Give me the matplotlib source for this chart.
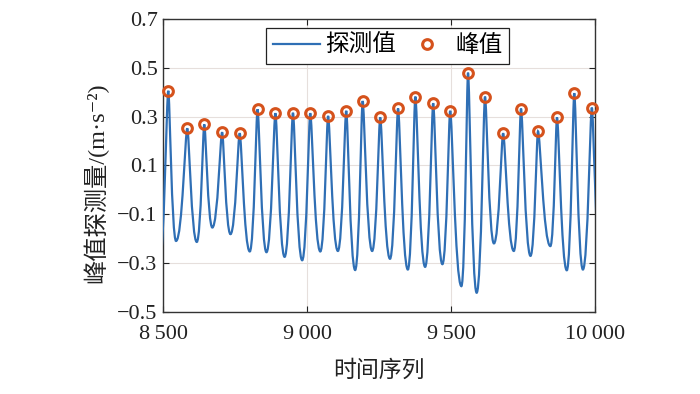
import numpy as np
import matplotlib
matplotlib.use("Agg")
import matplotlib.pyplot as plt
from matplotlib.path import Path
from matplotlib.patches import PathPatch
from matplotlib.lines import Line2D

plt.rcParams['font.family'] = ['Liberation Serif', 'Noto Sans CJK SC', 'DejaVu Sans']
plt.rcParams['axes.unicode_minus'] = True

# ---- data ----
peak_x = [8518, 8584, 8643, 8705, 8766, 8828, 8890, 8951, 9011, 9073, 9136, 9193, 9254,
          9316, 9376, 9438, 9497, 9559, 9618, 9681, 9743, 9802, 9868, 9928, 9989]
peak_y = [0.406, 0.252, 0.268, 0.236, 0.232, 0.330, 0.314, 0.316, 0.314, 0.303, 0.324, 0.364, 0.297,
          0.334, 0.382, 0.355, 0.324, 0.480, 0.382, 0.232, 0.333, 0.240, 0.297, 0.396, 0.337]
trough_x = [8485, 8545, 8617, 8671, 8734, 8801, 8859, 8922, 8983, 9046, 9107, 9167, 9226,
            9288, 9350, 9410, 9470, 9536, 9589, 9649, 9718, 9776, 9845, 9902, 9958, 10020]
trough_y = [-0.33, -0.209, -0.213, -0.154, -0.181, -0.252, -0.255, -0.274, -0.288, -0.252, -0.250, -0.328, -0.250,
            -0.282, -0.326, -0.315, -0.304, -0.394, -0.421, -0.219, -0.250, -0.270, -0.230, -0.329, -0.326, -0.30]

x_ticks = [8500, 9000, 9500, 10000]
x_ticklabels = ['8\u2009500', '9\u2009000', '9\u2009500', '10\u2009000']
y_ticks = [0.7, 0.5, 0.3, 0.1, -0.1, -0.3, -0.5]
y_ticklabels = ['0.7', '0.5', '0.3', '0.1', '\u22120.1', '\u22120.3', '\u22120.5']

line_color = '#2f6fb5'
peak_color = '#d5521c'

fig = plt.figure(figsize=(7.0, 3.94), dpi=100)
ax = fig.add_axes([0.233, 0.208, 0.617, 0.744])

# smooth curve through the extrema (Bezier with horizontal tangents at extrema)
ex = np.concatenate([peak_x, trough_x]).astype(float)
ey = np.concatenate([peak_y, trough_y]).astype(float)
is_peak = np.concatenate([np.ones(len(peak_x), bool), np.zeros(len(trough_x), bool)])
order = np.argsort(ex)
ex, ey, is_peak = ex[order], ey[order], is_peak[order]
k_peak, k_trough = 0.18, 0.55
verts = [(ex[0], ey[0])]
codes = [Path.MOVETO]
for i in range(len(ex) - 1):
    dx = ex[i + 1] - ex[i]
    k0 = k_peak if is_peak[i] else k_trough
    k1 = k_peak if is_peak[i + 1] else k_trough
    verts += [(ex[i] + k0 * dx, ey[i]), (ex[i + 1] - k1 * dx, ey[i + 1]), (ex[i + 1], ey[i + 1])]
    codes += [Path.CURVE4] * 3
patch = PathPatch(Path(verts, codes), facecolor='none', edgecolor=line_color, lw=1.6,
                  transform=ax.transData, zorder=3)
ax.add_patch(patch)

ax.plot(peak_x, peak_y, linestyle='none', marker='o', ms=7, mfc='none', mec=peak_color,
        mew=2.2, zorder=4, clip_on=False)

ax.set_xlim(8500, 10000)
ax.set_ylim(-0.5, 0.7)
ax.set_xticks(x_ticks)
ax.set_xticklabels(x_ticklabels)
ax.set_yticks(y_ticks)
ax.set_yticklabels(y_ticklabels)
ax.tick_params(direction='in', top=True, right=True, length=4, width=0.8,
               labelsize=16, pad=4, colors='#222222')
ax.tick_params(axis='x', pad=9)
for s in ax.spines.values():
    s.set_color('#333333')
    s.set_linewidth(1.0)
ax.grid(True, color='#e6dfdc', lw=0.8)
ax.set_axisbelow(True)

ax.set_xlabel('时间序列', fontsize=16.5, labelpad=12, color='#222222')
ax.set_ylabel('峰值探测量/(m·s\u207b\u00b2)', fontsize=17.5, color='#222222')
ax.yaxis.set_label_coords(-0.127, 0.44)

handles = [Line2D([], [], color=line_color, lw=1.6),
           Line2D([], [], linestyle='none', marker='o', ms=7, mfc='none', mec=peak_color, mew=2.2)]
leg = ax.legend(handles, ['探测值', '峰值'], loc='upper center', bbox_to_anchor=(0.52, 0.968),
                ncol=2, fontsize=17, frameon=True, fancybox=False, framealpha=1,
                edgecolor='#222222', handlelength=2.0, columnspacing=0.3, handletextpad=0.2,
                borderpad=0.3, borderaxespad=0)
leg.get_frame().set_linewidth(0.9)

fig.savefig('out.png', dpi=100)
